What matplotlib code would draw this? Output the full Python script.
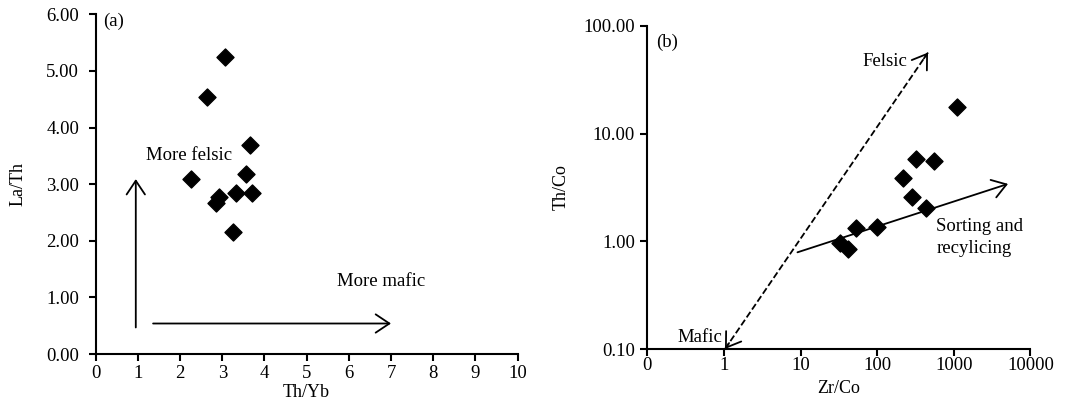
import numpy as np
import matplotlib
matplotlib.use('Agg')
from matplotlib import pyplot as plt

plt.rcParams['font.family'] = ['Liberation Serif', 'DejaVu Serif']

# (a) Th/Yb vs La/Th
th_yb = [3.06, 2.64, 3.65, 2.26, 3.57, 2.92, 2.86, 3.32, 3.71, 3.25]
la_th = [5.25, 4.54, 3.69, 3.09, 3.18, 2.78, 2.67, 2.85, 2.85, 2.15]

# (b) Zr/Co vs Th/Co
zr_co = [1114, 325, 552, 217, 288, 439, 53.5, 100, 32.5, 41.6]
th_co = [17.5, 5.75, 5.55, 3.83, 2.59, 2.03, 1.33, 1.35, 0.97, 0.84]

a_yticks = [0, 1, 2, 3, 4, 5, 6]
a_xticks = [0, 1, 2, 3, 4, 5, 6, 7, 8, 9, 10]
b_xticks = [0.1, 1, 10, 100, 1000, 10000]
b_xlabels = ['0', '1', '10', '100', '1000', '10000']
b_yticks = [0.1, 1, 10, 100]

HEAD = '->,head_width=0.3,head_length=0.45'


def style_axes(ax, xpad, ypad):
    for side in ['top', 'right']:
        ax.spines[side].set_visible(False)
    for side in ['left', 'bottom']:
        ax.spines[side].set_linewidth(1.5)
    ax.tick_params(direction='out', width=1.5, length=5, labelsize=13.5)
    ax.tick_params(axis='x', pad=xpad)
    ax.tick_params(axis='y', pad=ypad)
    ax.tick_params(which='minor', length=0)


def arrow(ax, tip, tail):
    ax.annotate('', xy=tip, xytext=tail,
                arrowprops=dict(arrowstyle=HEAD, lw=1.3, color='black',
                                mutation_scale=22, shrinkA=0, shrinkB=0))


def log_step(p, q, frac):
    # point a small fraction of the way from p toward q, in log space
    lp, lq = np.log10(p), np.log10(q)
    return tuple(10 ** (lp + frac * (lq - lp)))


fig = plt.figure(figsize=(10.79, 4.07), dpi=100)

# panel (a)
ax1 = fig.add_axes([0.0887, 0.130, 0.391, 0.835])
ax1.scatter(th_yb, la_th, marker='D', s=75, color='black', zorder=3)
ax1.set_xlim(0, 10)
ax1.set_ylim(0, 6)
ax1.set_xticks(a_xticks)
ax1.set_yticks(a_yticks)
ax1.set_yticklabels(['%.2f' % v for v in a_yticks])
ax1.set_xlabel('Th/Yb', fontsize=13, labelpad=1)
ax1.set_ylabel('La/Th', fontsize=13, labelpad=14)
style_axes(ax1, 3, 7)
arrow(ax1, (0.95, 3.09), (0.95, 0.47))
arrow(ax1, (7.0, 0.54), (1.36, 0.54))
ax1.text(1.2, 3.5, 'More felsic', fontsize=13.5, va='center', ha='left')
ax1.text(5.73, 1.28, 'More mafic', fontsize=13.5, va='center', ha='left')
ax1.text(0.17, 5.87, '(a)', fontsize=13.5, va='center', ha='left')

# panel (b)
ax2 = fig.add_axes([0.600, 0.1425, 0.355, 0.794])
ax2.set_xscale('log')
ax2.set_yscale('log')
ax2.scatter(zr_co, th_co, marker='D', s=75, color='black', zorder=3)
ax2.set_xlim(0.1, 10000)
ax2.set_ylim(0.1, 100)
ax2.set_xticks(b_xticks)
ax2.set_xticklabels(b_xlabels)
ax2.set_yticks(b_yticks)
ax2.set_yticklabels(['%.2f' % v for v in b_yticks])
ax2.set_xlabel('Zr/Co', fontsize=13, labelpad=4)
ax2.set_ylabel('Th/Co', fontsize=13, labelpad=10)
style_axes(ax2, 1, 4)

# felsic-mafic trend: dashed shaft with solid heads at both ends
mafic_end = np.array([1.03, 0.1])
felsic_end = np.array([460, 56.5])
ax2.plot([mafic_end[0], felsic_end[0]], [mafic_end[1], felsic_end[1]],
         color='black', lw=1.3, linestyle='--')
arrow(ax2, tuple(felsic_end), log_step(felsic_end, mafic_end, 0.02))
arrow(ax2, tuple(mafic_end), log_step(mafic_end, felsic_end, 0.02))

arrow(ax2, (5100, 3.41), (9.1, 0.79))
ax2.text(64, 47, 'Felsic', fontsize=13.5, va='center', ha='left')
ax2.text(0.246, 0.128, 'Mafic', fontsize=13.5, va='center', ha='left')
ax2.text(593, 1.36, 'Sorting and', fontsize=13.5, va='center', ha='left')
ax2.text(593, 0.86, 'recylicing', fontsize=13.5, va='center', ha='left')
ax2.text(0.13, 70, '(b)', fontsize=13.5, va='center', ha='left')

fig.savefig('out.png', dpi=100)
